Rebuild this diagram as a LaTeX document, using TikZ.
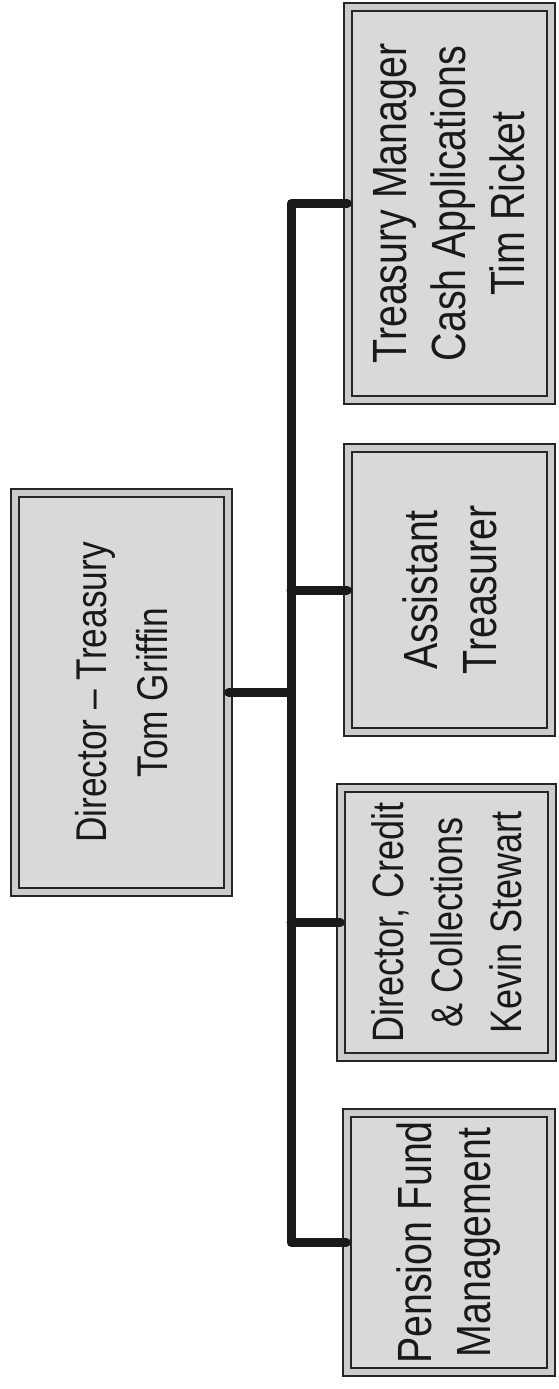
\documentclass[tikz,border=0pt]{standalone}
\usepackage{fontspec}
\setmainfont[FakeStretch=0.82]{Liberation Sans}
\begin{document}
\begin{tikzpicture}[x=1pt,y=-1pt,
    orgbox/.style={rotate=90,draw=black!85,line width=1.6pt,double=gray!40,double distance=6.5pt,
      fill=gray!30,text=black!90,align=center,inner sep=0pt,font=\fontsize{48}{59}\selectfont},
    link/.style={line width=9pt,line join=round,line cap=round,black!90}]
      \useasboundingbox (0,0) rectangle (559,1389);
      \node[orgbox,minimum width=399pt,minimum height=213pt,font=\fontsize{43}{61}\selectfont] (boss) at (121.5,692.5) {Director -- Treasury\\Tom Griffin};
      \node[orgbox,minimum width=393pt,minimum height=203pt] (tm) at (449.5,203.5) {Treasury Manager\\Cash Applications\\Tim Ricket};
      \node[orgbox,minimum width=284pt,minimum height=203pt] (at) at (449.5,590) {Assistant\\Treasurer};
      \node[orgbox,minimum width=269pt,minimum height=211pt,font=\fontsize{44}{59}\selectfont] (dc) at (446.5,922.5) {Director, Credit\\\& Collections\\Kevin Stewart};
      \node[orgbox,minimum width=259pt,minimum height=204pt] (pf) at (449,1242.5) {Pension Fund\\Management};
      \coordinate (hub) at (291,692.5);
      \draw[link] (boss.south) -- (hub);
      \draw[link] (tm.north) -| (hub) |- (pf.north);
      \draw[link] (hub |- at.north) -- (at.north);
      \draw[link] (hub |- dc.north) -- (dc.north);
    \end{tikzpicture}
\end{document}
